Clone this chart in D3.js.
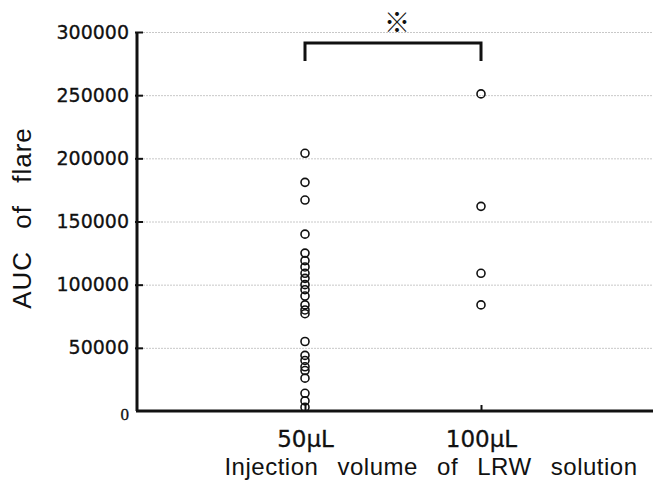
<!DOCTYPE html>
<html>
<head>
<meta charset="utf-8">
<script src="https://cdn.jsdelivr.net/npm/d3@7"></script>
<style>
  html, body { margin: 0; padding: 0; background: #fff; }
</style>
</head>
<body>
<script>
const categories = ["50\u03bcL", "100\u03bcL"];
const values50 = [204000, 181000, 167000, 140000, 125000, 119000, 114000, 109000, 105000,
  100000, 96000, 91000, 84000, 80000, 77000, 55000, 44000, 40000, 35000, 32000,
  26000, 14000, 8000, 3000];
const values100 = [251000, 162000, 109000, 84000];
const yTicks = [0, 50000, 100000, 150000, 200000, 250000, 300000];

const width = 656,
  height = 488;

const margin = {top: 32, right: 3, bottom: 77, left: 137},
  innerWidth = width - margin.left - margin.right,
  innerHeight = height - margin.top - margin.bottom;

const points = [];
values50.forEach(function(v) { points.push({cat: categories[0], v: v}); });
values100.forEach(function(v) { points.push({cat: categories[1], v: v}); });

const x = d3.scalePoint()
  .domain(categories)
  .range([168, 344]);

const y = d3.scaleLinear()
  .domain([0, 300000])
  .range([innerHeight, 0]);

const svg = d3.select("body").append("svg")
    .attr("width", width)
    .attr("height", height)
  .append("g")
    .attr("transform", "translate(" + margin.left + "," + margin.top + ")");

// light dotted grid lines
svg.append("g")
    .attr("class", "grid")
    .call(d3.axisLeft(y).tickValues(yTicks.slice(1)).tickSize(-innerWidth).tickFormat(""))
    .call(g => g.select(".domain").remove())
    .call(g => g.selectAll("line")
      .attr("stroke", "#c8c8c8")
      .attr("stroke-width", 1)
      .attr("stroke-dasharray", "2,1"));

// y axis
const yAxis = svg.append("g")
    .call(d3.axisLeft(y).tickValues(yTicks).tickSize(0).tickPadding(8)
      .tickFormat(d => d === 0 ? "0" : String(d)));
yAxis.select(".domain").remove();
yAxis.selectAll("text")
    .attr("font-family", "DejaVu Sans")
    .attr("font-size", 19)
    .attr("fill", "#111")
    .attr("stroke", "#111")
    .attr("stroke-width", 0.3)
    .filter(d => d === 0)
    .attr("font-family", "Liberation Serif")
    .attr("font-size", 17)
    .attr("dy", "0.5em");
yAxis.selectAll(".tick").filter(d => d > 0)
  .append("line")
    .attr("x1", -2).attr("x2", 6)
    .attr("stroke", "#111").attr("stroke-width", 2);

svg.append("line")
    .attr("x1", 0).attr("x2", 0)
    .attr("y1", y(300000)).attr("y2", y(0))
    .attr("stroke", "#111").attr("stroke-width", 3);

// x axis
const xAxis = svg.append("g")
    .attr("transform", "translate(0," + innerHeight + ")")
    .call(d3.axisBottom(x).tickSize(0).tickPadding(20));
xAxis.select(".domain").remove();
xAxis.selectAll("text")
    .attr("font-family", "DejaVu Sans")
    .attr("font-size", 23)
    .attr("fill", "#111")
    .attr("stroke", "#111")
    .attr("stroke-width", 0.3);
xAxis.selectAll(".tick")
  .append("line")
    .attr("y1", 0).attr("y2", -6)
    .attr("stroke", "#111").attr("stroke-width", 2);

svg.append("line")
    .attr("x1", -1).attr("x2", innerWidth)
    .attr("y1", innerHeight).attr("y2", innerHeight)
    .attr("stroke", "#111").attr("stroke-width", 3);

// significance bracket
const bTop = 43 - margin.top, bBottom = 61 - margin.top;
svg.append("path")
    .attr("d", "M" + x(categories[0]) + "," + bBottom + "V" + bTop +
      "H" + x(categories[1]) + "V" + bBottom)
    .attr("fill", "none")
    .attr("stroke", "#111")
    .attr("stroke-width", 3);
svg.append("text")
    .attr("x", (x(categories[0]) + x(categories[1])) / 2 + 4)
    .attr("y", 32 - margin.top)
    .attr("text-anchor", "middle")
    .attr("font-family", "Noto Sans CJK JP")
    .attr("font-weight", "bold")
    .attr("font-size", 26)
    .attr("fill", "#111")
    .text("\u203b");

// data points
svg.selectAll(".dot")
    .data(points)
  .enter().append("circle")
    .attr("cx", d => x(d.cat))
    .attr("cy", d => y(d.v))
    .attr("r", 4)
    .attr("fill", "none")
    .attr("stroke", "#111")
    .attr("stroke-width", 1.6);

// axis titles
svg.append("text")
    .attr("transform", "translate(" + (-106) + "," + (218 - margin.top) + ") rotate(-90)")
    .attr("text-anchor", "middle")
    .attr("font-family", "Liberation Sans")
    .attr("font-size", 26)
    .attr("letter-spacing", 1)
    .attr("word-spacing", 14)
    .attr("fill", "#111")
    .text("AUC of flare");

svg.append("text")
    .attr("x", 431 - margin.left)
    .attr("y", 475 - margin.top)
    .attr("text-anchor", "middle")
    .attr("font-family", "Liberation Sans")
    .attr("font-size", 24)
    .attr("letter-spacing", 0.5)
    .attr("word-spacing", 12)
    .attr("fill", "#111")
    .text("Injection volume of LRW solution");
</script>
</body>
</html>
